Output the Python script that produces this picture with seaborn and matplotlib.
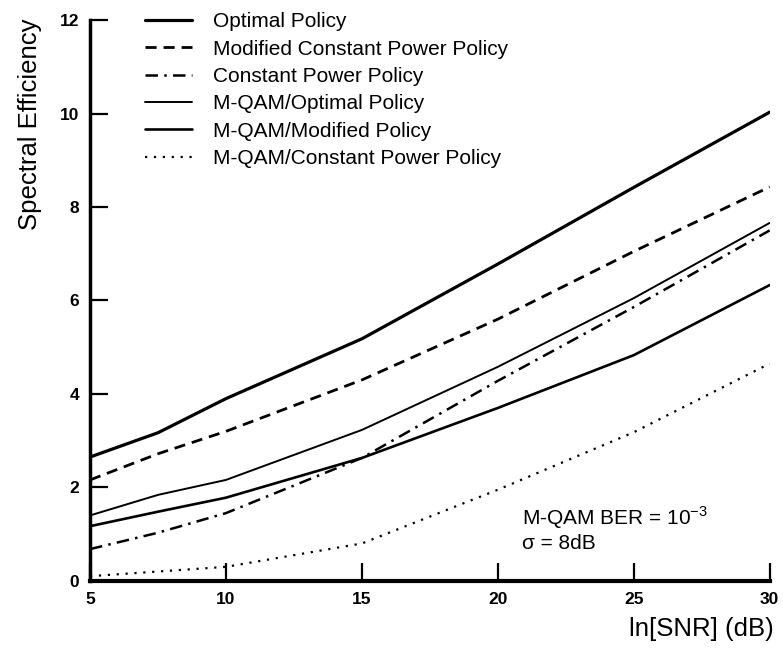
import numpy as np
import pandas as pd
import seaborn as sns
import matplotlib.pyplot as plt

sns.set_style("ticks")
plt.rcParams['font.family'] = ['Liberation Sans', 'DejaVu Sans']
plt.rcParams['text.color'] = 'black'
plt.rcParams['axes.labelcolor'] = 'black'
plt.rcParams['axes.edgecolor'] = 'black'

# данные
snr = [5, 7.5, 10, 15, 20, 25, 30]
optimal = [2.65, 3.17, 3.9, 5.18, 6.78, 8.42, 10.03]
modified_const = [2.16, 2.72, 3.2, 4.3, 5.6, 7.05, 8.43]
const_power = [0.68, 1.03, 1.45, 2.63, 4.28, 5.86, 7.5]
mqam_optimal = [1.4, 1.84, 2.16, 3.23, 4.58, 6.05, 7.66]
mqam_modified = [1.17, 1.48, 1.78, 2.63, 3.7, 4.83, 6.33]
mqam_const = [0.1, 0.2, 0.3, 0.8, 1.95, 3.18, 4.65]

labels = ['Optimal Policy', 'Modified Constant Power Policy', 'Constant Power Policy',
          'M-QAM/Optimal Policy', 'M-QAM/Modified Policy', 'M-QAM/Constant Power Policy']
series = [optimal, modified_const, const_power, mqam_optimal, mqam_modified, mqam_const]
styles = ['-', (0, (4, 2.5)), (0, (5, 2.5, 1, 2.5)), '-', '-', (0, (1, 3))]
widths = [2.3, 2.0, 1.8, 1.4, 1.9, 1.6]

df = pd.DataFrame({'snr': snr * len(labels),
                   'se': sum(series, []),
                   'policy': np.repeat(labels, len(snr))})

fig = plt.figure(figsize=(7.83, 6.49), dpi=100)
ax = fig.add_axes([0.115, 0.105, 0.868, 0.864])

for lab, ls, lw in zip(labels, styles, widths):
    sub = df[df['policy'] == lab]
    sns.lineplot(data=sub, x='snr', y='se', ax=ax, color='black',
                 linestyle=ls, linewidth=lw, label=lab)

ax.set_xlim(5, 30)
ax.set_ylim(0, 12)
ax.set_xticks([5, 10, 15, 20, 25, 30])
ax.set_yticks([0, 2, 4, 6, 8, 10, 12])
ax.tick_params(direction='in', length=13, width=1.6, labelsize=12.5, colors='black', pad=8)
for t in ax.get_xticklabels() + ax.get_yticklabels():
    t.set_fontweight('bold')
sns.despine(ax=ax)
ax.spines['left'].set_linewidth(2.5)
ax.spines['bottom'].set_linewidth(3)

ax.set_xlabel('ln[SNR] (dB)', fontsize=18.5)
ax.xaxis.set_label_coords(0.9, -0.064)
ax.set_ylabel('Spectral Efficiency', fontsize=18.5)
ax.yaxis.set_label_coords(-0.07, 0.815)

leg = ax.legend(loc='upper left', bbox_to_anchor=(0.081, 1.014), frameon=False,
                fontsize=15, handlelength=2.25, handletextpad=1.0, labelspacing=0.4,
                borderpad=0, borderaxespad=0)

ax.text(20.9, 1.35, 'M-QAM BER = 10$^{\\mathregular{-3}}$', fontsize=15, va='center')
ax.text(20.9, 0.8, 'σ = 8dB', fontsize=15, va='center')

plt.savefig('out.png', dpi=100)
